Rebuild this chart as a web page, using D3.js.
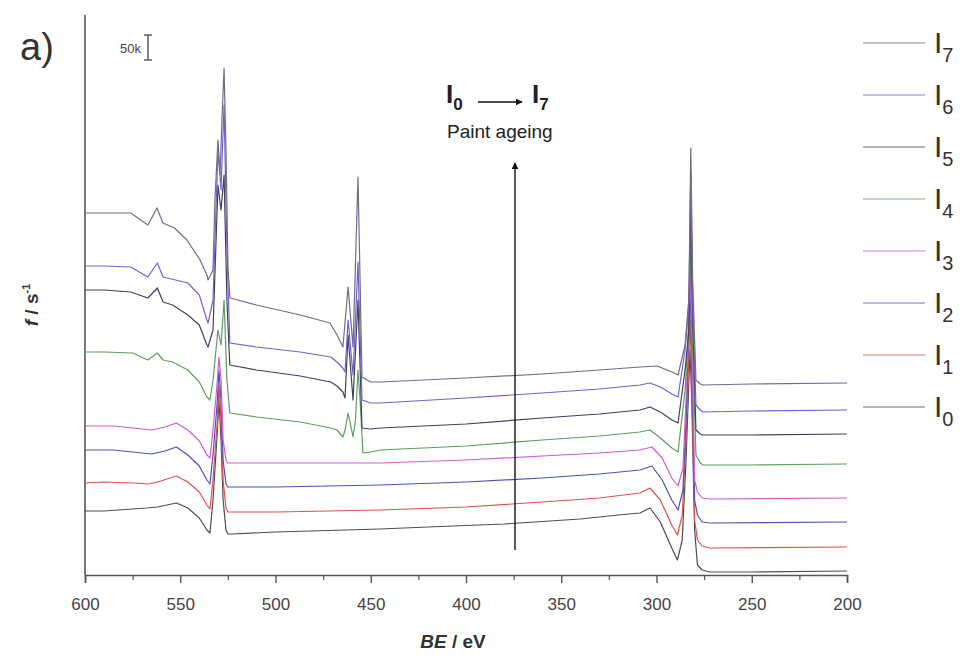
<!DOCTYPE html>
<html>
<head>
<meta charset="utf-8">
<script src="https://cdn.jsdelivr.net/npm/d3@7"></script>
<style>
  body { margin: 0; background: #fff; }
  svg { display: block; font-family: "Liberation Sans", Arial, sans-serif; }
</style>
</head>
<body>
<svg id="chart" width="962" height="665"></svg>
<script>
// spectra: [BE (eV), intensity (k counts/s, offset stacked)]
const I0 = [[600,128],[590,128],[575,132],[567.5,134],[562,136],[552,144],[546,134],[540,114],[536,90],[534.4,84],
  [532.8,150],[530.5,290],[529.7,350],[528.6,270],[527.5,150],[526,90],[525,82],[522.8,82],[500,86],[445,92],
  [420,96],[380,102],[340,112],[320,120],[308.7,124],[303.4,134],[298,106],[292,54],[289,30],[286.5,70],
  [284.5,230],[282.4,450],[281.5,350],[280,90],[278.5,20],[276,10],[272,6],[250,6],[200,8]];
const I1 = [[600,184],[590,186],[575,184],[567,182],[562,186],[552,198],[546,186],[540,166],[536,140],[534.4,132],
  [532.8,190],[530.5,310],[529.7,380],[528.6,310],[527.5,190],[526,134],[525,126],[500,126],[445,130],[400,136],
  [360,146],[330,154],[308.7,164],[303.4,174],[298,150],[292,100],[289,80],[286.5,120],[284.5,270],[282.4,510],
  [281.5,390],[280,110],[278.5,70],[276,58],[272,54],[200,56]];
const I2 = [[600,250],[585,250],[570,244],[565,242],[558,248],[552,256],[546,240],[540,218],[536,190],[534.4,182],
  [532.8,240],[530.5,350],[529.7,410],[528.6,350],[527.5,230],[526,182],[525,176],[500,176],[445,180],[400,186],
  [360,194],[330,202],[308.7,210],[302.4,218],[297,190],[292,150],[288.7,130],[286.1,170],[284.5,310],[282.4,570],
  [281.5,450],[280,150],[278.5,120],[276,106],[272,104],[200,106]];
const I3 = [[600,298],[585,298],[570,292],[565,290],[558,296],[552,304],[546,290],[540,268],[536,240],[534.4,234],
  [532.8,290],[530.5,390],[529.7,436],[528.6,390],[527.5,270],[526,230],[525,224],[500,224],[445,224],[400,230],
  [360,238],[330,244],[308.7,250],[302.4,256],[297,234],[292,194],[288.7,178],[286.1,214],[284.5,350],[282.4,620],
  [281.5,490],[280,190],[278.5,166],[276,154],[272,152],[200,154]];
const I4 = [[600,446],[590,446],[575,444],[567,430],[562,444],[559,430],[554,426],[546,410],[540,386],[536,356],
  [534.4,350],[532.8,390],[530.2,490],[528.6,460],[527,550],[525.5,390],[524,324],[510,316],[487,306],[471,294],
  [467.7,290],[464.6,276],[463.5,290],[461.9,324],[460,290],[459.3,276],[458,310],[456.7,410],[455.6,350],[454.1,244],
  [450,246],[445,250],[400,258],[360,270],[330,278],[308.7,286],[303.4,290],[298,274],[291.9,254],[288.7,246],
  [285,370],[283,490],[282,670],[281,450],[279.3,240],[277,224],[275.6,220],[250,220],[200,222]];
const I5 = [[600,570],[590,570],[576,566],[567,554],[562,574],[559,546],[554,540],[546,520],[540,500],[536,460],
  [535.4,456],[532.8,490],[530.2,780],[528.6,730],[527,800],[525.5,550],[524,420],[510,410],[487,398],[471,386],
  [467.7,378],[464.6,366],[463.5,354],[461.9,480],[459.3,350],[456.7,550],[454.6,294],[450,292],[445,294],[400,302],
  [360,314],[330,322],[308.7,330],[303.4,336],[298,326],[291.9,310],[288.7,304],[285,410],[283,490],[282,750],
  [281,510],[279.3,290],[277,282],[275.6,280],[250,280],[200,282]];
const I6 = [[600,618],[590,618],[576,616],[567,596],[562,624],[559,596],[546,584],[540,560],[536,510],[535.4,504],
  [532.8,550],[530.2,850],[528.6,770],[527,940],[525.5,650],[524,464],[510,456],[487,446],[471,436],[467.7,426],
  [464.6,414],[463.5,406],[461.9,510],[459.3,400],[456.7,626],[454.6,350],[450,344],[445,344],[400,354],[360,364],
  [330,372],[308.7,380],[303.4,384],[298,376],[291.9,362],[288.7,356],[285,450],[283,550],[282,810],[281,550],
  [279.3,340],[277,330],[275.6,326],[250,328],[200,330]];
const I7 = [[600,724],[590,724],[576,724],[567,700],[562.2,734],[559.1,704],[553,694],[546.5,670],[539.6,630],[536,600],
  [535.4,590],[532.8,610],[531.8,750],[530.2,870],[529.1,800],[528.1,910],[527,1014],[526,850],[524.9,610],[523.9,554],
  [510,540],[487,520],[471.4,504],[467.7,480],[464.6,456],[461.9,576],[459.3,456],[456.7,796],[454.6,396],[450,386],
  [445,386],[400,394],[360,402],[330,410],[308.7,416],[299.7,418],[291.9,406],[288.7,400],[285,460],[283,550],
  [282,854],[281,590],[279.3,390],[277,382],[275.6,380],[250,382],[200,384]];

const seriesNames = ['0','1','2','3','4','5','6','7'];
const seriesData = [I0, I1, I2, I3, I4, I5, I6, I7];
const seriesColors = ['#4d4d4d','#e0524f','#5050b4','#d35ad3','#5e9e5e','#40405e','#7262d2','#76698a'];

const xTicks = [600, 550, 500, 450, 400, 350, 300, 250, 200];
const xMinorTicks = [575, 525, 475, 425, 375, 325, 275, 225];
const scaleBarValue = 50;

const svg = d3.select('#chart');

const x = d3.scaleLinear().domain([600, 200]).range([85, 847]);
const y = d3.scaleLinear().domain([0, 1120]).range([575, 15]);

// axes
svg.append('line')
  .attr('x1', 85).attr('x2', 85).attr('y1', 15).attr('y2', 575)
  .attr('stroke', '#555').attr('stroke-width', 1.6);

const xAxis = svg.append('g')
  .attr('transform', 'translate(0,575)')
  .call(d3.axisBottom(x).tickValues(xTicks).tickSize(8).tickPadding(15).tickFormat(d3.format('d')));
xAxis.select('.domain').attr('stroke', '#555').attr('stroke-width', 1.6);
xAxis.selectAll('.tick line').attr('stroke', '#555').attr('stroke-width', 1.4);
xAxis.selectAll('.tick text')
  .attr('fill', '#444').style('font-size', '17px')
  .style('font-family', '"Liberation Sans", Arial, sans-serif');

const xMinor = svg.append('g')
  .attr('transform', 'translate(0,575)')
  .call(d3.axisBottom(x).tickValues(xMinorTicks).tickSize(5).tickFormat(''));
xMinor.select('.domain').remove();
xMinor.selectAll('.tick line').attr('stroke', '#555').attr('stroke-width', 1.2);

// spectra
const line = d3.line()
  .x(d => x(d[0]))
  .y(d => y(d[1]));

svg.append('g')
  .selectAll('path')
  .data(seriesData)
  .join('path')
  .attr('d', line)
  .attr('fill', 'none')
  .attr('stroke', (d, i) => seriesColors[i])
  .attr('stroke-width', 1.2)
  .attr('stroke-linejoin', 'round');

// axis titles
const xt = svg.append('text')
  .attr('x', 453).attr('y', 648)
  .attr('text-anchor', 'middle')
  .style('font-size', '19px').style('font-weight', 'bold').attr('fill', '#333');
xt.append('tspan').style('font-style', 'italic').text('BE');
xt.append('tspan').text(' / eV');

const yt = svg.append('text')
  .attr('transform', 'translate(38,305) rotate(-90)')
  .attr('text-anchor', 'middle')
  .style('font-size', '19px').style('font-weight', 'bold').attr('fill', '#333');
yt.append('tspan').style('font-style', 'italic').text('f');
yt.append('tspan').text(' / s');
yt.append('tspan').attr('dy', -8).style('font-size', '11px').text('-1');

// panel label
svg.append('text')
  .attr('x', 20).attr('y', 60)
  .style('font-size', '38px').attr('fill', '#333')
  .text('a)');

// 50k scale bar
const barTop = 35;
const barLen = y(0) - y(scaleBarValue);
const bar = svg.append('g').attr('stroke', '#444').attr('stroke-width', 1.3);
bar.append('line').attr('x1', 148).attr('x2', 148).attr('y1', barTop).attr('y2', barTop + barLen);
bar.append('line').attr('x1', 144).attr('x2', 152).attr('y1', barTop).attr('y2', barTop);
bar.append('line').attr('x1', 144).attr('x2', 152).attr('y1', barTop + barLen).attr('y2', barTop + barLen);
svg.append('text')
  .attr('x', 141).attr('y', barTop + barLen / 2 + 5)
  .attr('text-anchor', 'end')
  .style('font-size', '13px').attr('fill', '#444')
  .text(scaleBarValue + 'k');

// legend
const legend = svg.append('g');
const legendOrder = d3.range(7, -1, -1);
legendOrder.forEach((idx, row) => {
  const ly = 43 + row * 52;
  legend.append('line')
    .attr('x1', 863).attr('x2', 925).attr('y1', ly).attr('y2', ly)
    .attr('stroke', seriesColors[idx]).attr('stroke-width', 1.2).attr('opacity', 0.8);
  const t = legend.append('text')
    .attr('x', 934).attr('y', ly + 10)
    .attr('fill', '#333').style('font-size', '30px');
  t.append('tspan').text('I');
  t.append('tspan').attr('dy', 9).style('font-size', '20px').text(seriesNames[idx]);
});

// ageing annotation
svg.append('defs').append('marker')
  .attr('id', 'head')
  .attr('viewBox', '0 0 10 10')
  .attr('refX', 9).attr('refY', 5)
  .attr('markerWidth', 7).attr('markerHeight', 7)
  .attr('markerUnits', 'userSpaceOnUse')
  .attr('orient', 'auto')
  .append('path').attr('d', 'M0,0 L10,5 L0,10 Z').attr('fill', '#111');

const ann = svg.append('text')
  .attr('x', 446).attr('y', 103)
  .attr('fill', '#222').style('font-weight', 'bold');
ann.append('tspan').style('font-size', '26px').text('I');
ann.append('tspan').attr('dy', 7).style('font-size', '17px').text('0');
const ann2 = svg.append('text')
  .attr('x', 532).attr('y', 103)
  .attr('fill', '#222').style('font-weight', 'bold');
ann2.append('tspan').style('font-size', '26px').text('I');
ann2.append('tspan').attr('dy', 7).style('font-size', '17px').text('7');

svg.append('line')
  .attr('x1', 478).attr('x2', 522).attr('y1', 102).attr('y2', 102)
  .attr('stroke', '#111').attr('stroke-width', 1.4)
  .attr('marker-end', 'url(#head)');

svg.append('text')
  .attr('x', 447).attr('y', 138)
  .attr('fill', '#222').style('font-size', '19px')
  .text('Paint ageing');

svg.append('line')
  .attr('x1', 515).attr('x2', 515).attr('y1', 550).attr('y2', 163)
  .attr('stroke', '#111').attr('stroke-width', 1.4)
  .attr('marker-end', 'url(#head)');
</script>
</body>
</html>
